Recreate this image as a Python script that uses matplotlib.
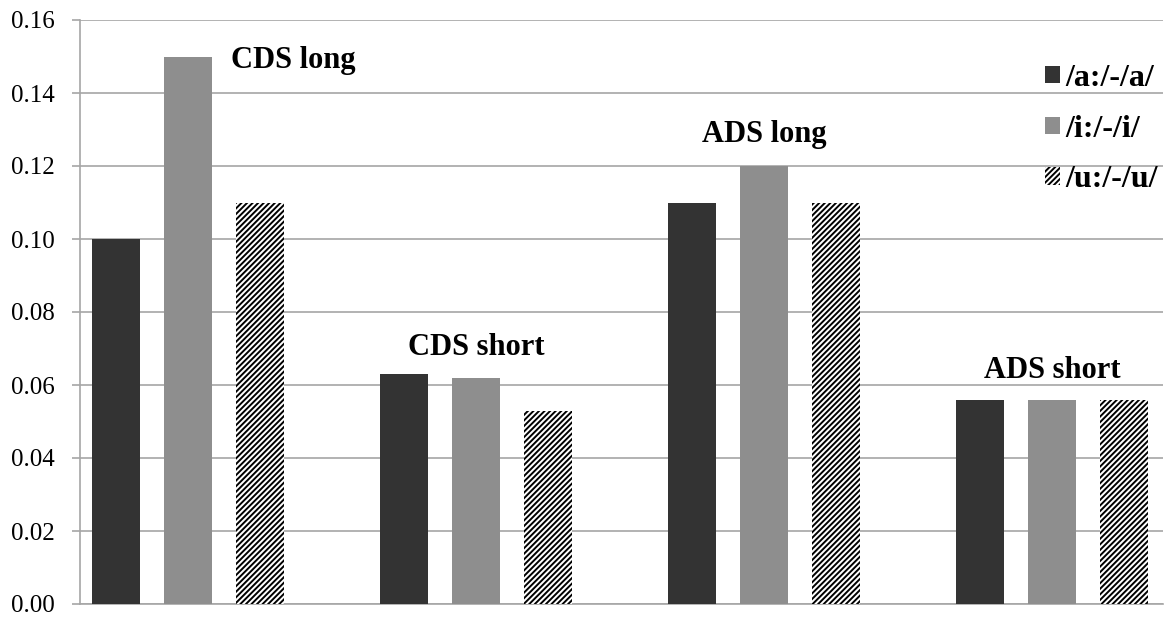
import matplotlib.pyplot as plt
import numpy as np

plt.rcParams['font.family'] = ['Liberation Serif', 'DejaVu Serif']
plt.rcParams['hatch.linewidth'] = 1.4

groups = ['CDS long', 'CDS short', 'ADS long', 'ADS short']
series = ['/a:/-/a/', '/i:/-/i/', '/u:/-/u/']
a_vals = [0.100, 0.063, 0.110, 0.056]
i_vals = [0.150, 0.062, 0.120, 0.056]
u_vals = [0.110, 0.053, 0.110, 0.056]

# where each group label sits (x in group units, y in data units)
label_x = [0.366, 1.0, 2.0, 3.0]
label_y = [0.1488, 0.0702, 0.1285, 0.0640]

fig = plt.figure(figsize=(11.7, 6.18), dpi=100)
ax = fig.add_axes([80 / 1170, 1 - 604 / 618, (1163 - 80) / 1170, 584 / 618])

x = np.arange(len(groups))
w = 0.168
off = 0.25
ax.bar(x - off, a_vals, w, color='#333333', label=series[0], zorder=3)
ax.bar(x, i_vals, w, color='#8e8e8e', label=series[1], zorder=3)
ax.bar(x + off, u_vals, w, color='white', edgecolor='black', linewidth=0,
       hatch='//////', label=series[2], zorder=3)

for gx, gy, g in zip(label_x, label_y, groups):
    ax.text(gx, gy, g, ha='center', va='center', fontsize=22,
            fontweight='bold', zorder=4)

ax.set_xlim(-0.375, 3.385)
ax.set_ylim(0, 0.16)
ticks = np.arange(0, 0.161, 0.02)
ax.set_yticks(ticks)
ax.set_yticklabels([f'{v:.2f}' for v in ticks])
ax.set_xticks([])
ax.yaxis.grid(True, color='#a6a6a6', linewidth=1.2, zorder=0)
ax.tick_params(axis='y', length=6, width=1.2, color='#a6a6a6', pad=12.5,
               labelsize=18)
for s in ['top', 'right']:
    ax.spines[s].set_visible(False)
for s in ['left', 'bottom']:
    ax.spines[s].set_color('#a6a6a6')
    ax.spines[s].set_linewidth(1.2)

leg = ax.legend(loc='upper left', bbox_to_anchor=(1045 / 1170, 1 - 64 / 618),
                bbox_transform=fig.transFigure, frameon=False,
                prop={'size': 23, 'weight': 'bold'},
                handlelength=0.47, handleheight=0.47, handletextpad=0.18,
                labelspacing=0.68, borderaxespad=0, borderpad=0)

fig.savefig('out.png', dpi=100)
